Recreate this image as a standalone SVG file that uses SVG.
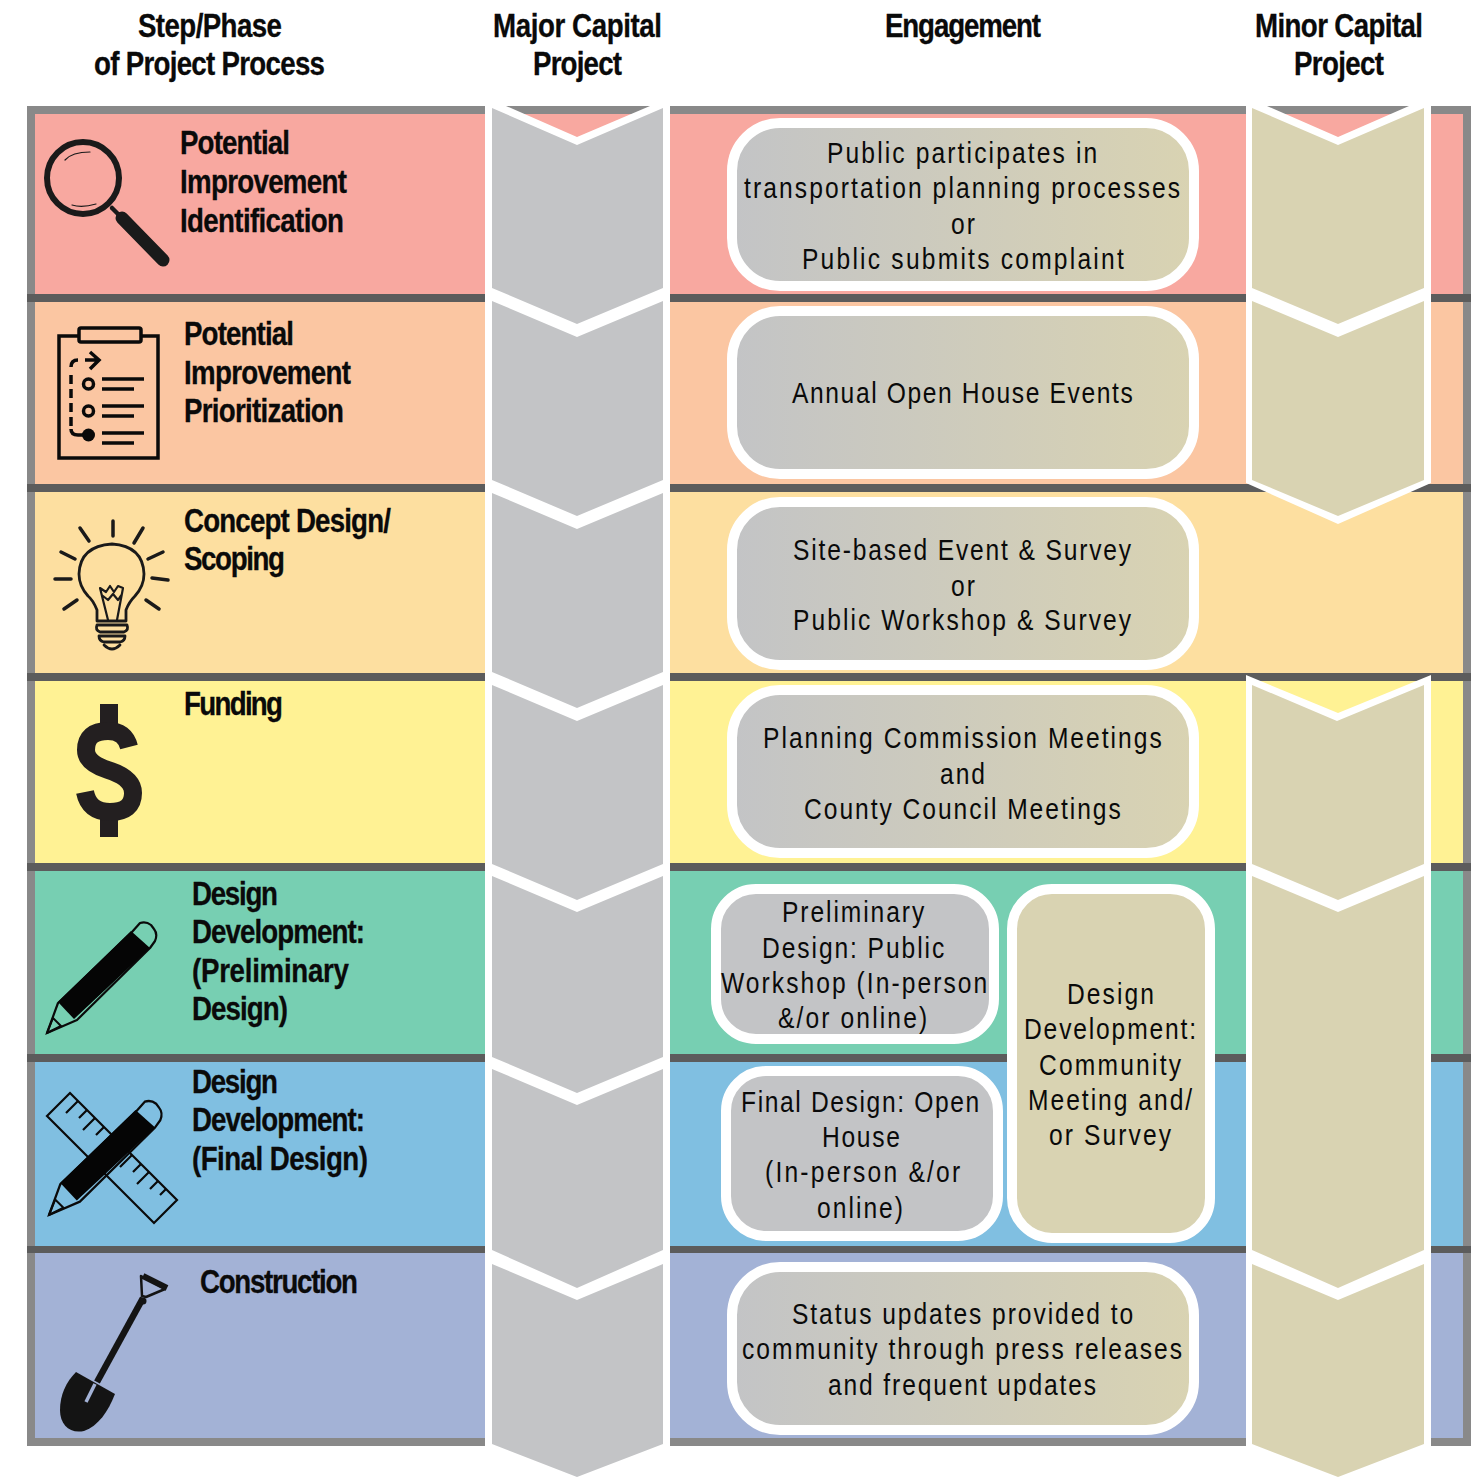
<svg xmlns="http://www.w3.org/2000/svg" width="1475" height="1477" viewBox="0 0 1475 1477">
<style>
text{font-family:"Liberation Sans",Arial,sans-serif;fill:#0a0a0a}
.h{font-weight:700;font-size:33px;stroke:#0a0a0a;stroke-width:.3px}
.b{font-size:30px}
.sep{fill:#5c5c5c}
.frame{fill:#898989}
.gc{fill:#c3c4c6}
.yc{fill:#d9d3b2}
.box{stroke:#fff;stroke-width:10;fill:url(#grad)}
.ink{fill:none;stroke:#1a1a1a;stroke-linecap:round;stroke-linejoin:round}
</style>
<defs>
<linearGradient id="grad" x1="0" y1="0" x2="1" y2="0"><stop offset="0" stop-color="#c3c4c6"/><stop offset="1" stop-color="#d9d3b2"/></linearGradient>
<g id="pencil">
<path d="M47 1033L58 1003L132 932L140 923Q146 921 151 925L154 929Q158 934 155 941L150 948L77 1020Z" fill="none" stroke="#0a0a0a" stroke-width="2.200" stroke-linejoin="round"/>
<path d="M58 1002L131 931L150 948L74 1019Z" fill="#050505"/>
<path d="M47 1033L53 1018L61 1026Z" fill="none" stroke="#0a0a0a" stroke-width="2"/>
</g>
</defs>
<rect width="1475" height="1477" fill="#fff"/>
<g id="bands">
<rect x="27" y="106" width="1444" height="1340" class="frame"/>
<rect x="35" y="114" width="1428" height="181" fill="#f8a8a0"/>
<rect x="35" y="302" width="1428" height="182" fill="#fbc6a2"/>
<rect x="35" y="492" width="1428" height="181" fill="#fddfa0"/>
<rect x="35" y="681" width="1428" height="182" fill="#fff294"/>
<rect x="35" y="871" width="1428" height="183" fill="#77cfb2"/>
<rect x="35" y="1062" width="1428" height="184" fill="#80bfe1"/>
<rect x="35" y="1253" width="1428" height="185" fill="#a3b2d6"/>
<rect x="27" y="294" width="1444" height="8" class="sep"/>
<rect x="27" y="484" width="1444" height="8" class="sep"/>
<rect x="27" y="673" width="1444" height="8" class="sep"/>
<rect x="27" y="863" width="1444" height="8" class="sep"/>
<rect x="27" y="1054" width="1444" height="8" class="sep"/>
<rect x="27" y="1246" width="1444" height="7" class="sep"/>
</g>
<g id="major-column">
<path d="M485 106H506L577 137L650 106H670V1477H485Z" fill="#fff"/>
<path class="gc" d="M492 108L577 145L663 108V288L577 324L492 288Z"/>
<path class="gc" d="M492 301L577 337L663 301V480L577 516L492 480Z"/>
<path class="gc" d="M492 493L577 529L663 493V672L577 708L492 672Z"/>
<path class="gc" d="M492 685L577 721L663 685V864L577 900L492 864Z"/>
<path class="gc" d="M492 876L577 912L663 876V1057L577 1093L492 1057Z"/>
<path class="gc" d="M492 1069L577 1105L663 1069V1250L577 1288L492 1250Z"/>
<path class="gc" d="M492 1264L577 1300L663 1264V1444L577 1477L492 1444Z"/>
</g>
<g id="minor-column">
<path d="M1246 106H1267L1338 137L1409 106H1431V483L1338 524L1246 483Z" fill="#fff"/>
<path d="M1246 675L1338 713L1431 675V1477H1246Z" fill="#fff"/>
<path class="yc" d="M1252 108L1338 145L1424 108V288L1338 324L1252 288Z"/>
<path class="yc" d="M1252 301L1338 337L1424 301V480L1338 516L1252 480Z"/>
<path class="yc" d="M1252 685L1337 721L1424 685V864L1338 900L1252 864Z"/>
<path class="yc" d="M1252 876L1338 912L1424 876V1250L1338 1288L1252 1250Z"/>
<path class="yc" d="M1252 1264L1338 1300L1424 1264V1444L1338 1477L1252 1444Z"/>
</g>
<g id="headers">
<text class="h" transform="translate(138 37) scale(.84 1)" textLength="171.400" lengthAdjust="spacing">Step/Phase</text>
<text class="h" transform="translate(94 75) scale(.84 1)" textLength="275" lengthAdjust="spacing">of Project Process</text>
<text class="h" transform="translate(493 37) scale(.84 1)" textLength="201.200" lengthAdjust="spacing">Major Capital</text>
<text class="h" transform="translate(533 75) scale(.84 1)" textLength="106" lengthAdjust="spacing">Project</text>
<text class="h" transform="translate(885 37) scale(.84 1)" textLength="185.700" lengthAdjust="spacing">Engagement</text>
<text class="h" transform="translate(1255 37) scale(.84 1)" textLength="200" lengthAdjust="spacing">Minor Capital</text>
<text class="h" transform="translate(1294 75) scale(.84 1)" textLength="107.100" lengthAdjust="spacing">Project</text>
</g>
<g id="step-identification">
<g>
<circle class="ink" cx="83" cy="178" r="36" stroke-width="6"/>
<path class="ink" d="M65 160Q72 152 90 152M72 205Q82 208 96 204" stroke-width="1.200"/>
<path class="ink" d="M112 208L120 216" stroke-width="4.500"/>
<path class="ink" d="M122 218L163 260" stroke-width="13"/>
</g>
<text class="h" transform="translate(180 154) scale(.84 1)" textLength="131" lengthAdjust="spacing">Potential</text>
<text class="h" transform="translate(180 193) scale(.84 1)" textLength="198.800" lengthAdjust="spacing">Improvement</text>
<text class="h" transform="translate(180 232) scale(.84 1)" textLength="195.200" lengthAdjust="spacing">Identification</text>
</g>
<g id="step-prioritization">
<g>
<rect x="59" y="336" width="99" height="122" fill="none" stroke="#0a0a0a" stroke-width="3.500"/>
<rect x="79" y="328" width="62" height="14" rx="2" fill="#fbc6a2" stroke="#0a0a0a" stroke-width="3.500"/>
<path d="M71 367Q71 360 78 360" fill="none" stroke="#0a0a0a" stroke-width="3.500"/>
<path d="M71 375V428" fill="none" stroke="#0a0a0a" stroke-width="3.500" stroke-dasharray="9 5"/>
<path d="M85 360H98M90 352L99 360L90 369" fill="none" stroke="#0a0a0a" stroke-width="3.500"/>
<circle cx="88.500" cy="384" r="5" fill="none" stroke="#0a0a0a" stroke-width="3.500"/>
<circle cx="88.500" cy="411" r="5" fill="none" stroke="#0a0a0a" stroke-width="3.500"/>
<circle cx="88.500" cy="435" r="6.500" fill="#0a0a0a"/>
<path d="M71 429Q71 435 78 435H88" fill="none" stroke="#0a0a0a" stroke-width="3.500"/>
<path d="M102 379H144M102 389H134M102 406H144M102 416H134M102 433H144M102 443H134" fill="none" stroke="#0a0a0a" stroke-width="3.500"/>
</g>
<text class="h" transform="translate(184 345) scale(.84 1)" textLength="131" lengthAdjust="spacing">Potential</text>
<text class="h" transform="translate(184 384) scale(.84 1)" textLength="198.800" lengthAdjust="spacing">Improvement</text>
<text class="h" transform="translate(184 422) scale(.84 1)" textLength="190.500" lengthAdjust="spacing">Prioritization</text>
</g>
<g id="step-concept">
<g>
<path class="ink" stroke-width="3.500" d="M113 521V536M80 528L89 541M143 528L134 543M61 552L75 559M163 552L148 559M55 579H71M152 578L168 580M64 609L77 600M159 609L146 600"/>
<path class="ink" stroke-width="2.800" d="M97 621V610Q93 600 88 596Q79 586 79 574Q80 546 112 544Q143 546 144 574Q144 586 135 596Q129 602 126 610V621Z"/>
<path class="ink" stroke-width="2.200" d="M108 620L100 588L106 592L110 586L114 592L118 586L123 588L117 620M103 596L108 600L113 594L118 600L122 594"/>
<path class="ink" stroke-width="2.800" d="M97 625H127Q129 630 124 632H100Q95 630 97 625ZM99 636H125Q125 641 120 642H104Q99 641 99 636ZM104 645Q112 653 120 645"/>
</g>
<text class="h" transform="translate(184 532) scale(.84 1)" textLength="246.400" lengthAdjust="spacing">Concept Design/</text>
<text class="h" transform="translate(184 570) scale(.84 1)" textLength="120.200" lengthAdjust="spacing">Scoping</text>
</g>
<g id="step-funding">
<g>
<rect x="100" y="704" width="18" height="30" fill="#231f20"/>
<rect x="100" y="806" width="18" height="31" fill="#231f20"/>
<path d="M129 747Q125 731 108 731Q86 731 86 750Q86 763 108 770Q133 778 133 793Q133 812 110 812Q89 812 85 792" fill="none" stroke="#231f20" stroke-width="18"/>
</g>
<text class="h" transform="translate(184 715) scale(.84 1)" textLength="117.900" lengthAdjust="spacing">Funding</text>
</g>
<g id="step-preliminary">
<use href="#pencil"/>
<text class="h" transform="translate(192 905) scale(.84 1)" textLength="102.400" lengthAdjust="spacing">Design</text>
<text class="h" transform="translate(192 943) scale(.84 1)" textLength="206" lengthAdjust="spacing">Development:</text>
<text class="h" transform="translate(192 982) scale(.84 1)" textLength="186.900" lengthAdjust="spacing">(Preliminary</text>
<text class="h" transform="translate(192 1020) scale(.84 1)" textLength="114.300" lengthAdjust="spacing">Design)</text>
</g>
<g id="step-final">
<g>
<path d="M70 1093L47 1116L154 1223L177 1200Z" fill="none" stroke="#0a0a0a" stroke-width="2.200"/>
<path d="M78 1101L66 1113M87 1110L79 1118M95 1118L83 1130M104 1127L96 1135M132 1155L120 1167M141 1164L133 1172M149 1172L137 1184M158 1181L150 1189M166 1189L160 1195" fill="none" stroke="#0a0a0a" stroke-width="2.200"/>
<use href="#pencil" transform="translate(0.600 151) scale(1.030)"/>
</g>
<text class="h" transform="translate(192 1093) scale(.84 1)" textLength="102.400" lengthAdjust="spacing">Design</text>
<text class="h" transform="translate(192 1131) scale(.84 1)" textLength="206" lengthAdjust="spacing">Development:</text>
<text class="h" transform="translate(192 1170) scale(.84 1)" textLength="209.500" lengthAdjust="spacing">(Final Design)</text>
</g>
<g id="step-construction">
<g>
<path d="M141 1276L165 1289L146 1297L142 1296Z" fill="none" stroke="#141414" stroke-width="2.500" stroke-linejoin="round"/>
<path d="M143 1276L167 1288" fill="none" stroke="#141414" stroke-width="6"/>
<path d="M143 1298L97 1382" fill="none" stroke="#141414" stroke-width="6.500"/>
<circle cx="143" cy="1301" r="3.500" fill="#141414"/>
<path d="M76 1372L115 1394C108 1412 98 1426 84 1431C70 1434 60 1425 60 1410C60 1395 66 1382 76 1372Z" fill="#141414"/>
<path d="M95 1384L86 1402" fill="none" stroke="#a3b2d6" stroke-width="3.500"/>
</g>
<text class="h" transform="translate(200 1293) scale(.84 1)" textLength="188.100" lengthAdjust="spacing">Construction</text>
</g>
<g id="engage-1">
<rect class="box" x="732" y="123" width="462" height="163" rx="48"/>
<text class="b" transform="translate(827 163) scale(.82 1)" textLength="329.500" lengthAdjust="spacing">Public participates in</text>
<text class="b" transform="translate(744 198) scale(.82 1)" textLength="531.900" lengthAdjust="spacing">transportation planning processes</text>
<text class="b" transform="translate(951 234) scale(.82 1)" textLength="29.300" lengthAdjust="spacing">or</text>
<text class="b" transform="translate(802 269) scale(.82 1)" textLength="392.400" lengthAdjust="spacing">Public submits complaint</text>
</g>
<g id="engage-2">
<rect class="box" x="732" y="311" width="462" height="163" rx="48"/>
<text class="b" transform="translate(792 403) scale(.82 1)" textLength="415.600" lengthAdjust="spacing">Annual Open House Events</text>
</g>
<g id="engage-3">
<rect class="box" x="732" y="502" width="462" height="163" rx="48"/>
<text class="b" transform="translate(793 560) scale(.82 1)" textLength="412.400" lengthAdjust="spacing">Site-based Event &amp; Survey</text>
<text class="b" transform="translate(951 596) scale(.82 1)" textLength="29.300" lengthAdjust="spacing">or</text>
<text class="b" transform="translate(793 630) scale(.82 1)" textLength="412.400" lengthAdjust="spacing">Public Workshop &amp; Survey</text>
</g>
<g id="engage-4">
<rect class="box" x="732" y="690" width="462" height="163" rx="48"/>
<text class="b" transform="translate(763 748) scale(.82 1)" textLength="486.300" lengthAdjust="spacing">Planning Commission Meetings</text>
<text class="b" transform="translate(940 784) scale(.82 1)" textLength="54.900" lengthAdjust="spacing">and</text>
<text class="b" transform="translate(804 819) scale(.82 1)" textLength="386.300" lengthAdjust="spacing">County Council Meetings</text>
</g>
<g id="engage-preliminary">
<rect class="box" x="716" y="889" width="278" height="150" rx="40" style="fill:#c3c4c6"/>
<text class="b" transform="translate(782 922) scale(.82 1)" textLength="173.400" lengthAdjust="spacing">Preliminary</text>
<text class="b" transform="translate(762 958) scale(.82 1)" textLength="222.200" lengthAdjust="spacing">Design: Public</text>
<text class="b" transform="translate(721 993) scale(.82 1)" textLength="324.600" lengthAdjust="spacing">Workshop (In-person</text>
<text class="b" transform="translate(778 1028) scale(.82 1)" textLength="181.900" lengthAdjust="spacing">&amp;/or online)</text>
</g>
<g id="engage-final">
<rect class="box" x="726" y="1071" width="272" height="165" rx="40" style="fill:#c3c4c6"/>
<text class="b" transform="translate(741 1112) scale(.82 1)" textLength="290.500" lengthAdjust="spacing">Final Design: Open</text>
<text class="b" transform="translate(822 1147) scale(.82 1)" textLength="95.100" lengthAdjust="spacing">House</text>
<text class="b" transform="translate(765 1182) scale(.82 1)" textLength="238" lengthAdjust="spacing">(In-person &amp;/or</text>
<text class="b" transform="translate(817 1218) scale(.82 1)" textLength="104.900" lengthAdjust="spacing">online)</text>
</g>
<g id="engage-community">
<rect class="box" x="1012" y="889" width="198" height="349" rx="40" style="fill:#d9d3b2"/>
<text class="b" transform="translate(1067 1004) scale(.82 1)" textLength="106.100" lengthAdjust="spacing">Design</text>
<text class="b" transform="translate(1024 1039) scale(.82 1)" textLength="209.800" lengthAdjust="spacing">Development:</text>
<text class="b" transform="translate(1039 1075) scale(.82 1)" textLength="173.200" lengthAdjust="spacing">Community</text>
<text class="b" transform="translate(1028 1110) scale(.82 1)" textLength="200.200" lengthAdjust="spacing">Meeting and/</text>
<text class="b" transform="translate(1049 1145) scale(.82 1)" textLength="148.800" lengthAdjust="spacing">or Survey</text>
</g>
<g id="engage-7">
<rect class="box" x="732" y="1267" width="462" height="163" rx="48"/>
<text class="b" transform="translate(792 1324) scale(.82 1)" textLength="416.100" lengthAdjust="spacing">Status updates provided to</text>
<text class="b" transform="translate(742 1359) scale(.82 1)" textLength="536.800" lengthAdjust="spacing">community through press releases</text>
<text class="b" transform="translate(828 1395) scale(.82 1)" textLength="327" lengthAdjust="spacing">and frequent updates</text>
</g>
<g id="connectors"/>
</svg>
